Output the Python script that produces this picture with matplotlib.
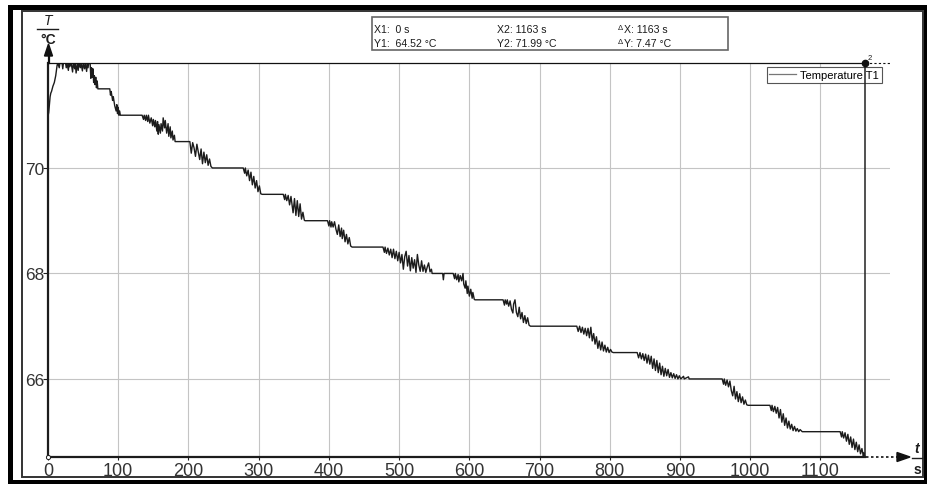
import matplotlib.pyplot as plt
from matplotlib.patches import Rectangle, Polygon
from matplotlib.lines import Line2D

plt.rcParams['font.family'] = ['Liberation Sans', 'DejaVu Sans']

# logged temperature T1, (time in s, temperature in °C); flat stretches only by their ends
readings = [
    (0, 70.98), (1, 71.05), (2, 71.2), (3, 71.35), (4, 71.42), (5, 71.45), (7, 71.55), (9, 71.62),
    (11, 71.75), (12, 71.85), (13, 71.95), (14, 71.99),
    (16, 71.9), (17, 71.99), (20, 71.99), (21, 71.88), (22, 71.99), (25, 71.99), (26, 71.9), (27, 71.99),
    (29, 71.85), (30, 71.99), (31, 71.92), (33, 71.99), (35, 71.82), (36, 71.99), (38, 71.88), (39, 71.99),
    (40, 71.8), (42, 71.99), (43, 71.85), (44, 71.99), (46, 71.9), (47, 71.99), (49, 71.84), (50, 71.99),
    (52, 71.88), (53, 71.99), (55, 71.83), (56, 71.99), (57, 71.9), (58, 71.99), (60, 71.99),
    (61, 71.7), (62, 71.9), (63, 71.72), (64, 71.88), (65, 71.62), (66, 71.75), (67, 71.58), (68, 71.72),
    (69, 71.52), (70, 71.65), (71, 71.5),
    (88, 71.5),
    (89, 71.38), (90, 71.45), (92, 71.28), (93, 71.35), (95, 71.18), (97, 71.08), (98, 71.2), (99, 71.03),
    (100, 71.15), (101, 71.0), (102, 71.08), (103, 71.0),
    (134, 71.0),
    (136, 70.92), (137, 71.0), (139, 70.9), (140, 71.0), (142, 70.88), (143, 71.0), (145, 70.85), (147, 70.95),
    (149, 70.8), (150, 70.92), (152, 70.78), (153, 70.9), (155, 70.7), (156, 70.88), (157, 70.64), (158, 70.82),
    (160, 70.66), (161, 70.84), (163, 70.7), (164, 70.95), (166, 70.76), (167, 70.9), (169, 70.66), (171, 70.84),
    (172, 70.6), (174, 70.78), (175, 70.57), (177, 70.7), (178, 70.53), (180, 70.62), (181, 70.5),
    (202, 70.5),
    (204, 70.28), (206, 70.48), (208, 70.38), (210, 70.22), (212, 70.45), (214, 70.3), (216, 70.16), (218, 70.36),
    (220, 70.08), (222, 70.3), (224, 70.1), (226, 70.25), (228, 70.05), (230, 70.17), (232, 70.03), (234, 70.0),
    (278, 70.0),
    (280, 69.9), (281, 70.0), (283, 69.85), (285, 69.96), (287, 69.76), (289, 69.92), (291, 69.68), (293, 69.84),
    (295, 69.62), (297, 69.76), (299, 69.55), (301, 69.66), (303, 69.51), (305, 69.5),
    (335, 69.5),
    (337, 69.4), (338, 69.5), (340, 69.38), (342, 69.48), (344, 69.3), (346, 69.46), (348, 69.26), (349, 69.15),
    (351, 69.42), (353, 69.1), (355, 69.38), (357, 69.08), (359, 69.32), (361, 69.03), (363, 69.16), (365, 69.01),
    (366, 69.0),
    (398, 69.0),
    (400, 68.9), (401, 69.0), (403, 68.88), (404, 68.98), (406, 68.88), (408, 68.98), (410, 68.84), (412, 68.74),
    (414, 68.92), (416, 68.7), (418, 68.86), (419, 68.66), (421, 68.82), (423, 68.6), (425, 68.74), (427, 68.56),
    (429, 68.68), (431, 68.52), (433, 68.5),
    (477, 68.5),
    (479, 68.4), (480, 68.5), (482, 68.38), (484, 68.48), (486, 68.35), (488, 68.46), (490, 68.3), (492, 68.46),
    (494, 68.28), (496, 68.42), (498, 68.24), (500, 68.4), (502, 68.2), (504, 68.36), (506, 68.08), (508, 68.32),
    (510, 68.42), (512, 68.14), (514, 68.34), (516, 68.05), (518, 68.3), (520, 68.1), (522, 68.26), (524, 68.02),
    (526, 68.36), (528, 68.16), (530, 68.04), (532, 68.24), (534, 68.04), (536, 68.16), (538, 68.02), (540, 68.12),
    (542, 68.2), (544, 68.03), (546, 68.08), (547, 68.0),
    (562, 68.0), (563, 67.88), (564, 68.0), (577, 68.0), (579, 67.9), (580, 68.0), (582, 67.88), (584, 67.98),
    (585, 67.84), (587, 67.96), (589, 67.86), (591, 68.0), (592, 67.8),
    (594, 67.72), (595, 67.86), (597, 67.62), (598, 67.76), (600, 67.57), (602, 67.7), (604, 67.53), (605, 67.64),
    (607, 67.51), (608, 67.5),
    (648, 67.5),
    (650, 67.4), (651, 67.5), (653, 67.42), (654, 67.5), (656, 67.38), (658, 67.48), (660, 67.32), (662, 67.25),
    (663, 67.42), (665, 67.5), (667, 67.26), (669, 67.18), (671, 67.36), (673, 67.14), (675, 67.26), (677, 67.07),
    (679, 67.2), (681, 67.05), (683, 67.16), (685, 67.02), (687, 67.0),
    (753, 67.0),
    (755, 66.9), (757, 67.0), (759, 66.88), (761, 66.98), (763, 66.85), (765, 66.96), (767, 66.82), (769, 66.96),
    (771, 66.78), (773, 66.98), (775, 66.72), (777, 66.86), (779, 66.66), (781, 66.8), (783, 66.58), (785, 66.72),
    (787, 66.55), (789, 66.7), (791, 66.53), (793, 66.64), (795, 66.51), (797, 66.6), (799, 66.5), (801, 66.56),
    (803, 66.51), (805, 66.5),
    (839, 66.5),
    (841, 66.4), (843, 66.5), (845, 66.38), (847, 66.48), (849, 66.35), (851, 66.47), (853, 66.3), (855, 66.45),
    (857, 66.28), (859, 66.43), (861, 66.2), (863, 66.38), (865, 66.16), (867, 66.35), (869, 66.12), (871, 66.3),
    (873, 66.08), (875, 66.24), (877, 66.05), (879, 66.2), (881, 66.06), (883, 66.18), (885, 66.03), (887, 66.12),
    (889, 66.02), (891, 66.1), (893, 66.01), (895, 66.08), (897, 66.0), (899, 66.06), (901, 66.0), (905, 66.05),
    (906, 66.0), (912, 66.04), (913, 66.0),
    (960, 66.0),
    (962, 65.9), (963, 66.0), (965, 65.88), (967, 65.98), (969, 65.85), (971, 65.96), (973, 65.78), (975, 65.68),
    (977, 65.86), (979, 65.62), (981, 65.76), (983, 65.57), (985, 65.72), (987, 65.55), (989, 65.66), (991, 65.52),
    (993, 65.6), (995, 65.51), (997, 65.5),
    (1028, 65.5),
    (1030, 65.4), (1031, 65.5), (1033, 65.38), (1035, 65.48), (1037, 65.35), (1039, 65.46), (1041, 65.26),
    (1043, 65.42), (1045, 65.18), (1047, 65.34), (1049, 65.12), (1051, 65.26), (1053, 65.07), (1055, 65.2),
    (1057, 65.05), (1059, 65.14), (1061, 65.02), (1063, 65.1), (1065, 65.01), (1067, 65.06), (1069, 65.0),
    (1071, 65.04), (1074, 65.0),
    (1128, 65.0),
    (1130, 64.9), (1131, 65.0), (1133, 64.88), (1135, 64.98), (1137, 64.82), (1139, 64.95), (1141, 64.76),
    (1143, 64.9), (1145, 64.7), (1147, 64.86), (1149, 64.66), (1151, 64.8), (1153, 64.62), (1155, 64.75),
    (1157, 64.58), (1159, 64.68), (1161, 64.54), (1162, 64.6), (1163, 64.52),
]
time_s, temp_c = zip(*readings)

x_ticks = [0, 100, 200, 300, 400, 500, 600, 700, 800, 900, 1000, 1100]
y_ticks = [66, 68, 70]
x_max = 1199
cursor_x = [0, 1163]
cursor_y = [64.52, 71.99]
series_name = 'Temperature T1'

W, H = 927, 485
ink = '#1c1c1c'


def fx(px):
    return px / W


def fy(py):
    return 1 - py / H


fig = plt.figure(figsize=(W / 100, H / 100), dpi=100)
ax = fig.add_axes([fx(48), fy(458), (890 - 48) / W, (458 - 64) / H])

ax.plot(time_s, temp_c, color=ink, lw=1.0, zorder=3)
ax.set_xlim(0, x_max)
ax.set_ylim(cursor_y[0], cursor_y[1])

ax.set_xticks(x_ticks)
ax.set_yticks(y_ticks)
ax.grid(color='#c4c4c4', lw=0.8)
ax.set_axisbelow(True)
for side in ('top', 'right'):
    ax.spines[side].set_visible(False)
for side in ('left', 'bottom'):
    ax.spines[side].set_color(ink)
    ax.spines[side].set_linewidth(1.6)
ax.spines['bottom'].set_bounds(cursor_x[0], cursor_x[1])
ax.tick_params(axis='x', length=2.5, width=0.8, pad=1, labelsize=13, colors=ink, labelcolor='#333')
ax.tick_params(axis='y', length=3.6, width=0.8, pad=12.9, labelsize=12.5, colors=ink, labelcolor='#333')
for lab in ax.get_yticklabels():
    lab.set_ha('left')

# cursor box between the two readout points
ax.plot([cursor_x[0], cursor_x[1]], [cursor_y[1], cursor_y[1]], color='#111', lw=0.9,
        clip_on=False, zorder=6)
ax.plot([cursor_x[1], cursor_x[1]], cursor_y, color='#222', lw=1.1, clip_on=False, zorder=6)
ax.plot([cursor_x[1], x_max], [cursor_y[1], cursor_y[1]], color='#111', lw=0.8,
        ls=(0, (2, 2)), clip_on=False, zorder=6)
ax.plot(cursor_x[1], cursor_y[1], 'o', ms=4.5, color='#111', clip_on=False, zorder=7)
ax.annotate('2', (cursor_x[1], cursor_y[1]), xytext=(2, 3), textcoords='offset points',
            fontsize=5.5, color=ink)
ax.plot(cursor_x[0], cursor_y[0], 'o', ms=3, mfc='white', mec=ink, mew=0.7, clip_on=False, zorder=7)

handle = Line2D([], [], color='#777', lw=0.9)
leg = ax.legend([handle], [series_name], loc='upper right', bbox_to_anchor=(fx(882), fy(68)),
                bbox_transform=fig.transFigure, fancybox=False, edgecolor='#555', framealpha=1,
                fontsize=8, handlelength=2.4, handletextpad=0.4, borderpad=0.25, borderaxespad=0)
leg.get_frame().set_linewidth(0.8)
leg.set_zorder(5)

# axis arrows and unit labels
fig.add_artist(Line2D([fx(866), fx(899)], [fy(458), fy(458)], color='#111', lw=1.2, ls=(0, (1.5, 1.5))))
fig.add_artist(Polygon([(fx(910), fy(458)), (fx(897), fy(453.5)), (fx(897), fy(462.5))],
                       closed=True, color='#111', transform=fig.transFigure))
fig.add_artist(Line2D([fx(48.5), fx(48.5)], [fy(64), fy(56)], color='#111', lw=1.6))
fig.add_artist(Polygon([(fx(48.5), fy(45)), (fx(44.5), fy(57)), (fx(52.5), fy(57))],
                       closed=True, color='#111', transform=fig.transFigure))

fig.text(fx(48), fy(21), 'T', style='italic', fontsize=10, ha='center', va='center', color=ink)
fig.add_artist(Line2D([fx(37), fx(58)], [fy(30), fy(30)], color=ink, lw=1.0))
fig.text(fx(48), fy(40), '°C', weight='bold', fontsize=10, ha='center', va='center', color=ink)

fig.text(fx(917), fy(449), 't', style='italic', weight='bold', fontsize=10, ha='center', va='center', color=ink)
fig.add_artist(Line2D([fx(912), fx(922)], [fy(459), fy(459)], color=ink, lw=1.0))
fig.text(fx(917), fy(470), 's', weight='bold', fontsize=10, ha='center', va='center', color=ink)

# readout panel
fig.add_artist(Rectangle((fx(372), fy(51)), 356 / W, 33 / H, facecolor='white', edgecolor='#666',
                         lw=1.2, transform=fig.transFigure))
readout_fs = 7.6
fig.text(fx(374), fy(30), f'X1:  {cursor_x[0]} s', fontsize=readout_fs, va='center', color=ink)
fig.text(fx(374), fy(44), f'Y1:  {cursor_y[0]:.2f} °C', fontsize=readout_fs, va='center', color=ink)
fig.text(fx(497), fy(30), f'X2: {cursor_x[1]} s', fontsize=readout_fs, va='center', color=ink)
fig.text(fx(497), fy(44), f'Y2: {cursor_y[1]:.2f} °C', fontsize=readout_fs, va='center', color=ink)
fig.text(fx(618), fy(28.5), 'Δ', fontsize=5.5, va='center', color=ink)
fig.text(fx(624), fy(30), f'X: {cursor_x[1] - cursor_x[0]} s', fontsize=readout_fs, va='center', color=ink)
fig.text(fx(618), fy(42.5), 'Δ', fontsize=5.5, va='center', color=ink)
fig.text(fx(624), fy(44), f'Y: {cursor_y[1] - cursor_y[0]:.2f} °C', fontsize=readout_fs, va='center', color=ink)

# window frames
fig.add_artist(Rectangle((fx(9.5), fy(482.5)), (925.5 - 9.5) / W, (482.5 - 7.5) / H, fill=False,
                         ec='black', lw=3.6, transform=fig.transFigure))
fig.add_artist(Rectangle((fx(21.5), fy(478)), (922.5 - 21.5) / W, (478 - 12) / H, fill=False,
                         ec='#333', lw=1.4, transform=fig.transFigure))

fig.savefig('out.png', dpi=100, facecolor='white')
